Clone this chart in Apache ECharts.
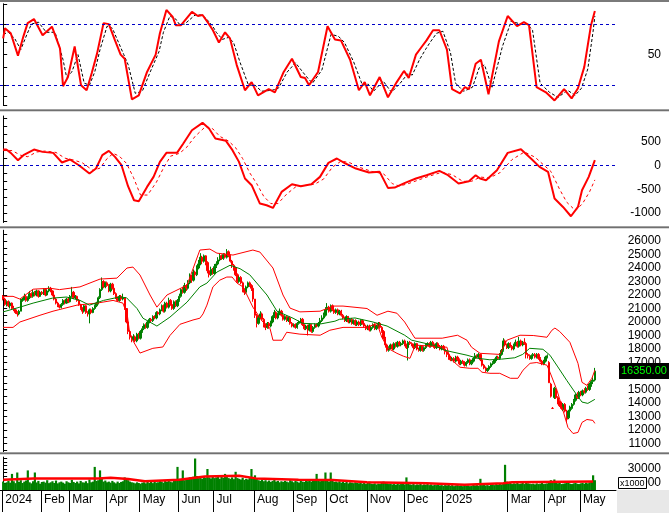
<!DOCTYPE html>
<html><head><meta charset="utf-8">
<script src="https://cdn.jsdelivr.net/npm/echarts@6/dist/echarts.min.js"></script>
<style>html,body{margin:0;padding:0;background:#fff}#c{width:669px;height:513px}</style>
</head><body><div id="c"></div>
<script>
// ---- x axis (trading-day index) ----
const monthTicks  = [-0.5, 21.5, 37.5, 58.5, 77.5, 99.5, 119.5, 142.5, 164.5, 183.5, 206.5, 227.5, 249.5, 286.5, 307.5, 327.5];
const monthLabels = ['2024','Feb','Mar','Apr','May','Jun','Jul','Aug','Sep','Oct','Nov','Dec','2025','Mar','Apr','May'];

// ---- price candles ----
const opens = [
21900,21700,21300,21500,21200,21400,21000,20900,20700,20600,
20800,21600,21700,21900,21600,21800,22100,21900,22200,22000,
22300,21900,22200,22100,22400,22000,22300,22500,22300,22000,
21700,21400,21200,21100,21300,21600,21400,21700,21500,21900,
22200,21800,21900,21600,21300,21000,20800,21200,20700,20600,
20900,20700,21000,21200,21400,21800,22400,23000,22600,22900,
22700,22300,22800,22500,22100,21800,21600,21900,21700,21800,
21000,20000,19300,18900,18700,18900,18600,19100,18800,19300,
19500,19800,19600,20000,20200,20100,20400,20300,20700,20600,
20900,21200,20800,21400,21100,21600,21300,21000,21500,21200,
21600,21900,22400,22200,22700,22500,22900,23400,23100,23700,
23500,24000,24300,24800,24500,24900,24400,23800,23500,23900,
23600,24100,24300,24600,24900,24700,25000,24800,25200,24900,
24500,24200,24000,23500,23000,23300,22900,22400,22200,22600,
22900,22700,22500,21700,20500,19900,20300,20600,20200,19800,
19600,19900,19700,20000,20400,20700,20300,20600,20800,20500,
20200,20400,20100,20300,19900,19700,19800,19600,19900,20000,
20200,19800,19500,19700,19400,19800,19300,19600,19800,19700,
19900,20100,20300,20500,20900,21100,20800,21200,20900,20700,
20900,20600,20800,20500,20300,20100,20400,20000,20200,19900,
20100,19800,20000,19800,20100,19900,19700,19500,19700,19400,
19600,19800,19500,19700,19900,19600,19300,18800,18300,17900,
18100,18300,18000,18400,18200,18500,18300,18400,18600,18300,
18100,18500,18400,18300,18100,18400,18000,17900,18200,17900,
18100,18300,18400,18200,18500,18300,18100,18400,18200,18000,
18200,18000,17800,17600,17400,17200,17300,17100,17400,17200,
16900,17100,17000,16800,17000,17200,16900,17100,17300,17500,
17400,17600,17200,16800,16600,16400,16500,16700,16900,17000,
17200,17400,17300,17600,17900,18600,18300,18100,18400,18200,
18000,18300,18500,18200,18600,18300,18500,18400,17600,17500,
17300,17500,17600,17400,17600,17300,17100,16900,17100,17400,
17000,15400,13600,14400,15000,14400,14100,13900,13500,13900,
13400,12900,13400,13600,13900,14200,14600,14400,14800,14600,
14900,14800,15100,15000,15400,15600,15700];
const highs = [
22000,21800,21600,21600,21500,21450,21200,21000,20800,20900,
21700,21800,22100,22000,21900,22300,22200,22400,22300,22400,
22350,22300,22300,22500,22450,22400,22650,22600,22350,22100,
21800,21500,21300,21400,21700,21650,21800,21800,22000,22600,
22300,22000,21950,21700,21350,21100,21300,21250,20800,21000,
21000,21100,21300,21500,21900,22500,23300,23100,23000,23000,
22800,22900,22900,22600,22200,21900,22000,22000,22100,21850,
21000,20100,19400,19000,19100,19000,19200,19200,19400,19700,
19900,19900,20100,20300,20300,20500,20500,20800,20800,21000,
21300,21300,21500,21500,21800,21700,21400,21600,21600,21700,
22100,22500,22600,22900,22800,23100,23600,23500,23900,23800,
24200,24600,25100,24900,25000,24950,24500,23900,24100,24000,
24300,24500,24800,25100,25000,25100,25100,25400,25300,25000,
24600,24300,24100,23600,23400,23400,23000,22500,22700,23000,
23000,22800,22600,21700,20600,20500,20800,20700,20300,19900,
20000,20000,20100,20500,20900,20800,20700,21000,20900,20600,
20500,20500,20400,20400,20000,19900,19900,20000,20100,20300,
20300,19900,19800,19800,19900,19850,19700,19900,19900,20000,
20300,20500,20700,21100,21400,21200,21300,21300,21000,21000,
21000,20900,20900,20600,20400,20500,20450,20300,20300,20200,
20200,20100,20100,20200,20200,20000,19800,19800,19800,19700,
19900,19900,19800,20000,20000,19700,19400,18900,18400,18200,
18400,18400,18500,18500,18600,18600,18500,18700,18700,18400,
18600,18600,18500,18400,18500,18450,18100,18300,18250,18200,
18400,18500,18500,18600,18600,18400,18500,18500,18300,18300,
18300,18100,17900,17700,17500,17400,17400,17500,17500,17300,
17200,17200,17100,17100,17300,17300,17200,17400,17700,17600,
17700,17650,17300,16900,16700,16600,16800,17000,17100,17300,
17500,17500,17700,18000,18800,18700,18400,18500,18500,18300,
18400,18700,18600,18900,18700,18600,18800,18450,17700,17600,
17600,17700,17700,17700,17700,17400,17200,17200,17500,17600,
17100,15500,13700,15200,15000,14500,14200,14100,14000,14000,
13500,13500,13800,14000,14300,14700,14800,14900,14900,15000,
15100,15200,15300,15500,15700,15900,16600];
const lows = [
21600,21200,21150,21100,21000,20900,20800,20600,20400,20500,
20800,21500,21600,21500,21500,21700,21800,21800,21900,21900,
21800,21850,22000,22000,21900,21950,22200,22200,21900,21600,
21300,21100,21000,21000,21200,21300,21350,21400,21450,21800,
21700,21700,21500,21200,20900,20600,20700,20600,20400,19900,
20600,20650,20900,21100,21300,21700,22300,22500,22500,22600,
22200,22200,22400,22000,21700,21500,21500,21600,21600,20900,
19900,19100,18700,18500,18600,18500,18500,18700,18700,19200,
19400,19500,19500,19900,20000,20000,20200,20200,20500,20500,
20800,20700,20700,21000,21000,21200,20900,20900,21100,21100,
21500,21800,22100,22100,22300,22400,22800,22900,23000,23300,
23400,23900,24200,24300,24400,24200,23600,23300,23400,23500,
23500,24000,24200,24500,24600,24600,24700,24700,24800,24400,
24000,23800,23400,22900,22900,22800,22200,22000,22100,22500,
22600,22300,21500,20300,19600,19800,20200,20100,19600,19400,
19500,19500,19600,19900,20300,20200,20200,20500,20400,20100,
20100,20000,20000,19800,19600,19600,19500,19500,19800,19900,
19700,19400,19400,19000,19300,19200,19200,19500,19600,19600,
19800,20000,20200,20400,20800,20700,20700,20800,20600,20600,
20500,20500,20400,20200,20000,20000,19900,19900,19800,19800,
19700,19700,19700,19700,19800,19600,19400,19400,19300,19300,
19500,19400,19400,19600,19500,19200,18700,18100,17800,17800,
18000,17900,17900,18100,18100,18200,18200,18300,18200,18000,
17150,18300,18200,18000,18000,17900,17800,17800,17800,17800,
18000,18200,18100,18100,18200,18000,18000,18100,17900,17900,
17900,17600,17400,17200,17100,17100,17000,17000,17100,16800,
16800,16900,16700,16700,16900,16800,16800,17000,17200,17300,
17300,17100,16700,16500,16300,16300,16400,16600,16800,16900,
17100,17200,17200,17500,17800,18200,18000,18000,18100,17900,
17900,18200,18100,18100,18200,18200,18300,17300,17300,17200,
17200,17400,17300,17300,17200,17000,16800,16800,17000,17300,
15500,14400,13600,14300,14300,13900,13700,13500,13400,13300,
12600,12800,13200,13500,13800,14100,14300,14300,14500,14500,
14700,14700,14900,14900,15200,15400,15600];
const closes = [
21700,21300,21500,21200,21400,21000,20900,20700,20600,20800,
21600,21700,21900,21600,21800,22100,21900,22200,22000,22300,
21900,22200,22100,22400,22000,22300,22500,22300,22000,21700,
21400,21200,21100,21300,21600,21400,21700,21500,21900,22200,
21800,21900,21600,21300,21000,20800,21200,20700,20600,20900,
20700,21000,21200,21400,21800,22400,23000,22600,22900,22700,
22300,22800,22500,22100,21800,21600,21900,21700,21800,21000,
20000,19300,18900,18700,18900,18600,19100,18800,19300,19500,
19800,19600,20000,20200,20100,20400,20300,20700,20600,20900,
21200,20800,21400,21100,21600,21300,21000,21500,21200,21600,
21900,22400,22200,22700,22500,22900,23400,23100,23700,23500,
24000,24300,24800,24500,24900,24400,23800,23500,23900,23600,
24100,24300,24600,24900,24700,25000,24800,25200,24900,24500,
24200,24000,23500,23000,23300,22900,22400,22200,22600,22900,
22700,22500,21700,20500,19900,20300,20600,20200,19800,19600,
19900,19700,20000,20400,20700,20300,20600,20800,20500,20200,
20400,20100,20300,19900,19700,19800,19600,19900,20000,20200,
19800,19500,19700,19400,19800,19300,19600,19800,19700,19900,
20100,20300,20500,20900,21100,20800,21200,20900,20700,20900,
20600,20800,20500,20300,20100,20400,20000,20200,19900,20100,
19800,20000,19800,20100,19900,19700,19500,19700,19400,19600,
19800,19500,19700,19900,19600,19300,18800,18300,17900,18100,
18300,18000,18400,18200,18500,18300,18400,18600,18300,18100,
18500,18400,18300,18100,18400,18000,17900,18200,17900,18100,
18300,18400,18200,18500,18300,18100,18400,18200,18000,18200,
18000,17800,17600,17400,17200,17300,17100,17400,17200,16900,
17100,17000,16800,17000,17200,16900,17100,17300,17500,17400,
17600,17200,16800,16600,16400,16500,16700,16900,17000,17200,
17400,17300,17600,17900,18600,18300,18100,18400,18200,18000,
18300,18500,18200,18600,18300,18500,18400,17600,17500,17300,
17500,17600,17400,17600,17300,17100,16900,17100,17400,17500,
15500,14500,13600,15100,14400,14000,13800,13600,13900,13400,
12800,13400,13700,13900,14200,14600,14400,14800,14600,14900,
14800,15100,15000,15400,15600,15700,16350];

// ---- volume (x1000) ----
const volumes = [
12000,9500,11000,13000,10500,23000,12500,9800,25000,11500,
14000,10000,12000,13500,28000,11000,9500,12500,25000,10800,
13000,9000,11500,12000,10500,14000,9800,11000,12500,10000,
13500,9500,11000,12000,10500,9000,12500,11000,10000,14500,
11500,10000,12000,9500,13000,11000,10500,12500,9800,15000,
11000,12000,33000,13000,14000,28000,16000,12000,13500,11000,
12000,10500,13000,11000,9500,12000,10000,11500,12500,18000,
16000,14000,12000,11000,10500,9500,11000,10000,9000,10500,
11000,9500,12000,10000,11500,9800,12000,10500,11000,13000,
12000,10500,14000,11500,13000,12000,11000,14500,13000,33000,
16000,15000,28000,14000,17000,15500,18000,16000,19000,45000,
20000,17000,18500,16000,19000,17500,30000,18000,16500,19500,
17000,18000,21000,16000,19000,17500,23000,18500,17000,16000,
18000,15500,26000,17000,16000,15000,17500,14500,16000,15000,
18000,30000,17000,21000,16000,14000,13000,15000,12500,14000,
12000,13500,11500,13000,14500,12000,13000,11000,12500,11500,
13000,12000,11000,14000,12500,11000,13000,12000,10500,13500,
12000,11500,14000,12500,13000,12000,15000,13500,23000,14000,
12500,15000,13000,25000,14000,12000,25000,13000,11500,12000,
11000,12500,10500,11500,10000,12000,9500,11000,10500,9800,
11000,10000,9500,10500,9000,11000,8500,10000,12000,9000,
8500,9500,8000,9000,8500,10000,12000,11000,9500,8500,
9000,8000,8500,7500,9000,8000,8500,9500,8000,18000,
9000,8000,7500,8500,7000,8000,7500,9000,7000,8000,
7500,8500,7000,8000,6500,7500,7000,8000,6500,7000,
6000,7000,6500,7500,6000,7000,5500,6500,7000,6000,
6500,5500,7000,6000,6500,5500,6000,7500,6500,7000,
6000,16000,7000,8000,6500,7000,6000,7500,8000,7000,
8500,7500,9000,8000,10000,36000,12000,9000,10000,8500,
9500,9000,10500,8500,9000,10000,8500,11000,9500,9000,
8500,9000,8000,9500,8500,9000,10000,8500,9000,9500,
12000,14000,10000,15000,11000,9500,10000,8500,9000,9500,
11000,10000,9000,8500,9500,10000,9000,8500,9500,10000,
9000,10500,9500,11000,12000,21000,14000];

// ---- indicator lines: [dayIndex, value] ----
const ma20 = [[0,20750],[9.5,21100],[17,21400],[28,21770],[36,21850],[43.6,21600],[49,21250],[57,21600],[66,21850],[70,21800],[76,21000],[79.4,20280],[87.3,19700],[94.7,20360],[104.4,21470],[111.7,22600],[115.7,22880],[121.4,23700],[128.8,24200],[134.5,23950],[140,23500],[149.8,22000],[155.5,20800],[164.6,20280],[170.2,19900],[180,19850],[188.4,20060],[191,20200],[199.8,20300],[210,20000],[218,19700],[228,19020],[232,18650],[244.3,18280],[250.9,17900],[263.4,17540],[269.6,17310],[276.4,17200],[283,17250],[290.5,17350],[295,17600],[299,18050],[306.5,17980],[310.5,17540],[315,16670],[320,15680],[324.6,14810],[328.7,14070],[332,13970],[336,14270]];
const upperBand = [[0,21900],[5.6,21900],[9.5,21700],[17,22430],[26.6,22500],[32,22400],[43.6,22600],[55,23180],[64.6,23250],[70.3,24000],[73.7,24070],[77.7,23480],[83.4,22000],[87.3,21100],[93,22000],[104.4,22730],[111.7,25330],[117.4,25400],[121.4,25100],[130.5,24960],[141.8,25330],[145.8,25180],[153.2,24000],[158.9,22000],[162.9,21030],[168.5,20750],[180,20800],[187.3,21180],[193,21180],[206.6,21000],[212.3,20500],[218.5,20800],[223.6,20650],[228,20000],[233.8,18800],[249.3,18800],[258,19020],[263.4,18650],[266,18130],[270.8,17680],[282,17600],[286,18650],[293.5,19020],[301,19000],[308.8,18870],[311.6,19390],[313.3,19550],[316,19300],[321.8,18500],[326.4,16940],[328.7,15530],[331.5,15310],[334.3,15830],[336,16430]];
const lowerBand = [[0,19600],[5.6,19600],[9.5,20000],[20.9,20500],[28.3,20800],[41.9,21250],[53.3,21400],[62.4,21600],[68,21400],[70.5,20500],[72,19000],[77.7,17700],[85,18050],[90.7,18150],[94.7,19000],[100.4,19830],[107.8,20150],[111.7,20280],[113.5,20600],[115.7,21250],[119.1,22600],[123,23100],[127,23330],[130,23330],[132.8,22880],[136.2,22600],[141.8,21100],[147.5,20000],[151.5,19540],[153.2,18650],[158.3,18650],[161,19240],[168.5,19100],[180,19020],[185.5,19390],[193,19600],[206.6,19600],[212.3,19900],[215,18870],[218.5,18050],[223.6,17680],[227.4,17460],[231,17310],[233.8,18200],[235,18280],[252,18130],[253.7,17300],[259.4,16650],[265,16570],[269.6,16570],[271.9,16280],[276.4,16200],[282,16200],[288,15830],[292.3,15830],[295.2,16430],[299.2,16940],[303,17000],[308.8,16800],[310.5,16280],[314.5,14940],[317.9,13450],[320.7,12190],[323.6,11740],[326.4,11820],[328.7,12560],[331.5,12780],[334.9,12710],[336,12490]];
const volMA = [[0,14700],[17.5,16600],[54,16600],[61,17500],[71,15700],[80.5,12400],[100,14700],[114.5,19300],[134,20300],[143.5,16600],[167.7,14700],[187,14300],[206.6,11000],[240.4,9700],[262,7400],[284,9700],[289,11000],[335,12000]];
const stochK = [[0,66],[1,76],[4.3,71],[8.4,49],[11.5,68],[13.9,81],[17.5,85],[22.4,69],[27.7,77.5],[32.3,56],[34,19],[36.8,28],[40.6,58],[44.2,20],[47.4,15],[50.3,32],[53.3,51],[57,81],[60,80],[63.5,64],[66.7,50],[69,46],[73.1,6],[77,10],[81.7,33],[86.6,50],[89,71],[92.7,94],[96.3,87],[98,79],[101,79],[107.2,92],[110.6,88],[113.2,89],[116.9,80],[119.1,74],[122.5,62],[126,72],[128.8,66],[132.6,40],[137.3,15],[141.1,23],[144.7,10],[150.8,16],[154.3,13],[159.3,33],[164,46],[169,28],[171.4,27],[173.7,20],[178.8,33],[184.2,78],[188.4,65],[191.8,64],[197,45],[202,15],[205.3,23],[208.3,10],[213.8,28],[218.5,8],[223.5,23],[227.6,34],[230.3,27],[234.4,50],[237.8,58],[240.4,64],[244.1,74],[247.7,74],[252,55],[254.9,16],[259.4,12],[262.2,18],[264.5,16],[268.3,41],[271.3,45],[275.6,11],[281.5,63],[286.5,88],[291.8,78],[295.7,82],[298.6,79],[302.9,18],[308.2,13],[313.1,5],[318.5,16],[322.8,7],[326.4,17],[330,38],[333.8,79],[336,93]];
const stochD = [[0,70],[3,72],[6.5,66],[10,55],[13.5,70],[16,80],[20,82],[24.5,72],[29.5,72],[34,45],[36,28],[39,33],[42.5,50],[46,22],[49,20],[52,33],[55,55],[59,78],[62,76],[65.5,62],[68.5,50],[71,40],[75,12],[79,14],[83.5,33],[88.5,53],[91,72],[94.7,88],[98,85],[100,80],[103,80],[109,89],[112.5,89],[115,86],[119,78],[121,72],[124.5,65],[128,67],[130.8,62],[134.6,42],[139.3,20],[143,20],[146.7,14],[152.8,15],[156.3,17],[161.3,33],[166,42],[171,31],[173.4,26],[175.7,22],[181,35],[186.2,70],[190.4,68],[193.8,62],[199,43],[204,20],[207.3,21],[210.3,14],[215.8,24],[220.5,13],[225.5,22],[229.6,31],[232.3,30],[236.4,45],[239.8,55],[242.4,62],[246.1,71],[249.7,73],[254,52],[256.9,22],[261.4,14],[264.2,16],[266.5,18],[270.3,37],[273.3,40],[277.6,18],[283.5,58],[288.5,83],[293.8,80],[297.7,80],[300.6,74],[304.9,22],[310.2,13],[315.1,8],[320.5,15],[324.8,10],[328.4,17],[332,36],[335,73],[336,88]];
const macdLine = [[0,342],[1.8,342],[4.3,271],[8.4,116],[11.5,222],[17.5,342],[22.4,292],[28.4,271],[33.4,67],[37.9,131],[43,10],[49,-165],[52.7,-60],[56.3,222],[60,313],[63.5,187],[67.2,10],[70.9,-433],[74.3,-730],[77,-750],[81.7,-448],[85.4,-236],[89,81],[92.7,271],[98.7,271],[102.3,469],[107.2,750],[113.2,905],[116.9,786],[120.5,575],[126.5,525],[130.2,328],[133.9,81],[137.3,-271],[141.1,-412],[145.8,-800],[149.6,-835],[153.2,-892],[158.1,-554],[164,-391],[169,-433],[175,-391],[179.9,-236],[184.7,60],[189.5,152],[194.4,46],[200.3,-60],[207.7,-144],[213.8,-130],[218.5,-469],[222.3,-462],[228.2,-363],[234.4,-271],[240.4,-201],[247.7,-109],[252.6,-201],[258.6,-377],[264.5,-328],[268.3,-201],[270.8,-271],[274.2,-307],[280.4,-95],[286.5,271],[294,349],[299.7,152],[304.6,-25],[309.4,-130],[313.1,-694],[317.9,-871],[322.4,-1068],[326.4,-871],[328.7,-518],[332.5,-236],[336,116]];
const macdSignal = [[0,320],[5,320],[10,220],[14,190],[19,290],[24,310],[30,280],[35,160],[40,120],[45,60],[51,-100],[55,-50],[59,150],[62.5,260],[66,200],[70,50],[74,-250],[78,-620],[82,-620],[87,-350],[91,-50],[95,200],[100,260],[104,380],[109,620],[115,830],[119,780],[123,620],[128,520],[132,380],[136,150],[140,-150],[144,-380],[148,-650],[152,-800],[156,-800],[161,-600],[166,-450],[171,-420],[177,-390],[182,-280],[187,-30],[192,100],[197,60],[202,-30],[210,-130],[216,-170],[221,-380],[225,-430],[230,-380],[236,-300],[242,-220],[249,-140],[255,-190],[261,-330],[266,-330],[271,-240],[276,-260],[282,-150],[289,130],[296,290],[302,180],[306.5,30],[311,-120],[316,-500],[320,-770],[325,-950],[329,-800],[333,-550],[336,-300]];

// ---- y-axis ticks / labels ----
const stochLabels = [50];
const stochTicks  = [0, 9, 20, 38, 50, 62, 80, 100];
const stochLevels = [80, 20];
const macdLabels  = [500, 0, -500, -1000];
const macdTicks   = [-1166.7,-1000,-833.3,-666.7,-500,-333.3,-166.7,0,166.7,333.3,500,666.7,833.3,1000];
const priceLabels = [11000,12000,13000,14000,15000,16000,17000,18000,19000,20000,21000,22000,23000,24000,25000,26000];
const priceTicks  = [10500,11000,11500,12000,12500,13000,13500,14000,14500,15000,15500,16000,16500,17000,17500,18000,18500,19000,19500,20000,20500,21000,21500,22000,22500,23000,23500,24000,24500,25000,25500,26000,26500];
const volLabels   = [30000, 10000];
const volTicks    = [0,5000,10000,15000,20000,25000,30000,35000,40000,45000];

const FONT = 'Liberation Sans, Arial, sans-serif';
const xMin = -1.8, xMax = 348;
const grids = [
  {left:0, width:616, top:3.8,   height:101.7},
  {left:0, width:616, top:116.0, height:106.5},
  {left:0, width:616, top:230.2, height:221.4},
  {left:0, width:616, top:457.1, height:32.9}
];
function yAx(i, min, max, labels, ticks, fmt) {
  return {
    type:'value', gridIndex:i, position:'right', min:min, max:max, scale:true,
    axisLine:{show:true, lineStyle:{color:'#000', width:1}},
    axisTick:{show:true, customValues:ticks, length:4, lineStyle:{color:'#000'}},
    axisLabel:{show:true, customValues:labels, align:'right', margin:45, fontSize:12, color:'#000', fontFamily:FONT,
               formatter: fmt || (v => String(v))},
    splitLine:{show:false}
  };
}
const xAxes = [0,1,2,3].map(i => ({
  type:'value', gridIndex:i, min:xMin, max:xMax, show: i === 3,
  axisLine:{show:true, onZero:false, lineStyle:{color:'#000'}},
  axisTick:{show:true, customValues:monthTicks, length:22, lineStyle:{color:'#000'}},
  axisLabel:{show:true, customValues:monthTicks, align:'left', padding:[0,0,0,3], margin:4,
             fontSize:12, color:'#000', fontFamily:FONT,
             formatter: v => { const k = monthTicks.indexOf(v); return k >= 0 ? monthLabels[k] : ''; }},
  splitLine:{show:false}
}));
const lineS = (xi, data, color, width, type, z) => ({
  type:'line', xAxisIndex:xi, yAxisIndex:xi, data:data, showSymbol:false, symbol:'none',
  lineStyle:{color:color, width:width, type:type || 'solid'}, itemStyle:{color:color}, silent:true, z:z || 3
});
const levelLine = vals => ({silent:true, symbol:'none', label:{show:false},
  lineStyle:{color:'#0000c8', width:1, type:[3,3]}, data: vals.map(v => ({yAxis:v}))});

const candleData = closes.map((c,i) => [i, opens[i], c, lows[i], highs[i]]);
const volData = volumes.map((v,i) => [i, v]);

const option = {
  animation:false, backgroundColor:'#fff',
  grid: grids,
  xAxis: xAxes,
  yAxis: [
    yAx(0, 0, 100, stochLabels, stochTicks),
    yAx(1, -1200, 1050, macdLabels, macdTicks),
    yAx(2, 10400, 26800, priceLabels, priceTicks),
    yAx(3, 0, 47000, volLabels, volTicks)
  ],
  series: [
    lineS(0, stochD, '#000', 1, [3,2], 3),
    Object.assign(lineS(0, stochK, '#ff0000', 2, 'solid', 4), {markLine: levelLine(stochLevels)}),
    lineS(1, macdSignal, '#ff0000', 1, [3,3], 3),
    Object.assign(lineS(1, macdLine, '#ff0000', 2, 'solid', 4), {markLine: levelLine([0])}),
    {type:'candlestick', xAxisIndex:2, yAxisIndex:2, data:candleData, encode:{x:0, y:[1,2,3,4]},
     barWidth:1.8, silent:true, z:3,
     itemStyle:{color:'#008000', color0:'#ff0000', borderColor:'#008000', borderColor0:'#ff0000', borderWidth:1}},
    lineS(2, upperBand, '#ff0000', 1, 'solid', 4),
    lineS(2, lowerBand, '#ff0000', 1, 'solid', 4),
    lineS(2, ma20, '#008000', 1, 'solid', 4),
    {type:'bar', xAxisIndex:3, yAxisIndex:3, data:volData, barWidth:2.2, silent:true,
     itemStyle:{color:'#008000'}, z:2},
    lineS(3, volMA, '#ff0000', 2.5, 'solid', 4)
  ]
};
const chart = echarts.init(document.getElementById('c'));
chart.setOption(option);

const lastClose = closes[closes.length - 1];
const py = chart.convertToPixel({gridIndex:2}, [0, lastClose])[1];
const sep = (y) => [
  {type:'rect', z:100, shape:{x:0, y:y, width:669, height:1}, style:{fill:'#a0a0a0'}},
  {type:'rect', z:100, shape:{x:0, y:y+1, width:669, height:1}, style:{fill:'#707070'}},
  {type:'rect', z:100, shape:{x:0, y:y+2, width:669, height:1}, style:{fill:'#d8d8d8'}}
];
chart.setOption({graphic: [
  {type:'rect', z:100, shape:{x:0, y:0, width:669, height:2}, style:{fill:'#7a7a7a'}},
  ...sep(109), ...sep(226), ...sep(452),
  {type:'rect', z:100, shape:{x:617, y:490, width:52, height:23}, style:{fill:'#e8e8e8'}},
  {type:'rect', z:101, shape:{x:618.5, y:477.5, width:28, height:11}, style:{fill:'#fff', stroke:'#000', lineWidth:1}},
  {type:'text', z:102, x:620, y:483.5, style:{text:'x1000', font:'9px ' + FONT, fill:'#000', align:'left', verticalAlign:'middle', textAlign:'left', textVerticalAlign:'middle'}},
  {type:'rect', z:101, shape:{x:619, y:Math.round(py) - 8, width:50, height:16}, style:{fill:'#000'}},
  {type:'text', z:102, x:621, y:Math.round(py), style:{text:lastClose.toFixed(2), font:'11px ' + FONT, fill:'#00ff00', align:'left', verticalAlign:'middle', textAlign:'left', textVerticalAlign:'middle'}}
]});
</script>
</body></html>
